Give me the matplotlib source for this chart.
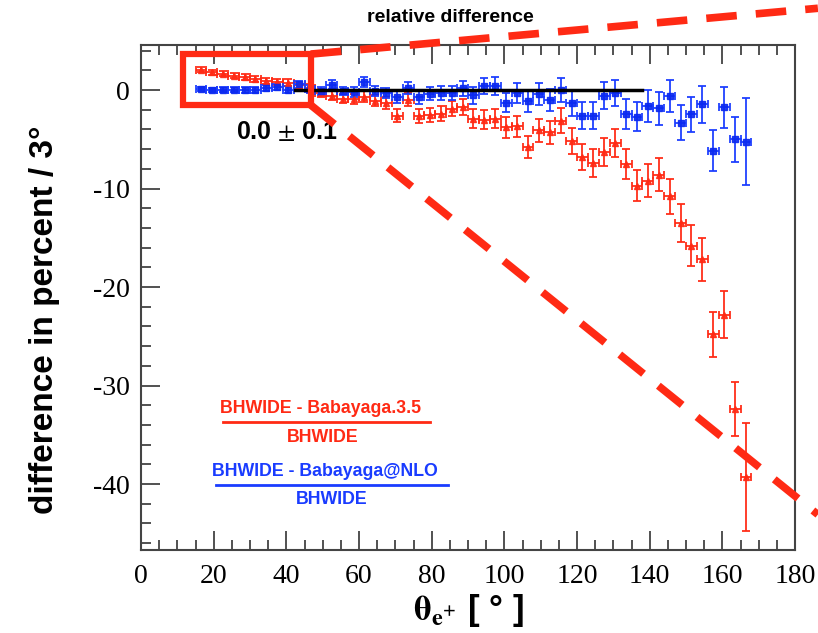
import matplotlib
matplotlib.use("Agg")
import matplotlib.pyplot as plt
from matplotlib.patches import Rectangle
from matplotlib.ticker import MultipleLocator
import numpy as np

plt.rcParams['axes.unicode_minus'] = False
plt.rcParams['mathtext.fontset'] = 'stix'

# bin centres, 3 degree bins
theta = np.arange(16.5, 167.0, 3.0)

# (BHWIDE - Babayaga.3.5) / BHWIDE in percent
red_vals = [2.05, 1.8, 1.65, 1.45, 1.3, 1.15, 0.95, 0.85,
            0.75, 0.5, 0.2, -0.3, -0.6, -0.9, -0.9,
            -0.7, -1.1, -1.3, -2.6, -1.0, -2.6, -2.5, -2.4, -1.9, -1.7,
            -2.9, -3.0, -2.9, -3.8, -3.7, -5.8, -4.1, -4.3, -3.1, -5.2,
            -6.8, -7.4, -6.3, -5.4, -7.5,
            -9.7, -9.2, -8.6, -10.8, -13.5, -15.8, -17.2,
            -24.8, -22.8, -32.4, -39.3]
red_err = [0.25, 0.25, 0.25, 0.25, 0.3, 0.3, 0.3, 0.3,
           0.35, 0.35, 0.4, 0.4, 0.45, 0.45, 0.5,
           0.55, 0.55, 0.6, 0.65, 0.65, 0.7, 0.7, 0.75, 0.75, 0.8,
           0.95, 1.0, 1.0, 1.05, 1.1, 1.15, 1.2, 1.2, 1.25, 1.3,
           1.35, 1.4, 1.4, 1.45, 1.5,
           1.6, 1.65, 1.7, 1.8, 1.95, 2.1, 2.2,
           2.3, 2.4, 2.75, 5.5]

# (BHWIDE - Babayaga@NLO) / BHWIDE in percent
blue_vals = [0.1, 0.0, 0.05, 0.05, 0.0, 0.0, 0.2, 0.35,
             0.05, 0.6, 0.1, -0.1, 0.55, -0.1, -0.2,
             0.8, -0.1, -0.3, -0.74, 0.17, -0.74, -0.38, -0.34, -0.34, 0.17,
             -0.55, 0.4, 0.4, -1.3, -0.3, -1.15, -0.4, -1.0, 0.0, -1.35,
             -2.6, -2.6, -0.57, -0.3, -2.44,
             -2.7, -1.6, -1.86, -0.6, -3.3, -2.44, -1.45,
             -6.16, -1.76, -5.0, -5.24]
blue_err = [0.25, 0.25, 0.25, 0.25, 0.3, 0.3, 0.3, 0.3,
            0.35, 0.35, 0.4, 0.4, 0.45, 0.45, 0.5,
            0.5, 0.55, 0.55, 0.6, 0.6, 0.65, 0.65, 0.7, 0.7, 0.75,
            0.85, 0.85, 0.9, 0.95, 1.0, 1.05, 1.1, 1.15, 1.25, 1.3,
            1.35, 1.35, 1.35, 1.35, 1.5,
            1.5, 1.6, 1.66, 1.6, 1.78, 1.78, 1.86,
            2.06, 2.06, 2.3, 4.4]

# fit result of the blue ratio
fit_range = [42.5, 138.0]
fit_value = 0.0

RED = '#ff2a14'
BLUE = '#1a3cff'

fig = plt.figure(figsize=(8.18, 6.33), dpi=100)
ax = fig.add_axes([0.1724, 0.1311, 0.7995, 0.7978])

ax.errorbar(theta, red_vals, xerr=1.5, yerr=red_err, fmt='^', color=RED,
            ecolor=RED, markersize=5, elinewidth=1.4, capsize=3,
            capthick=1.4, alpha=0.9, zorder=3)
ax.errorbar(theta, blue_vals, xerr=1.5, yerr=blue_err, fmt='s', color='#0a28f0',
            ecolor=BLUE, markersize=5, elinewidth=1.4, capsize=3,
            capthick=1.4, alpha=0.9, zorder=3)
ax.plot(fit_range, [fit_value, fit_value], color='black', lw=2.5, zorder=4)

ax.text(40.2, -4.3, r'0.0 $\pm$ 0.1', ha='center', va='center',
        fontsize=18, fontweight='bold', family='Liberation Sans')

# zoom box and dashed guide lines
ax.add_patch(Rectangle((11.6, -1.52), 35.1, 5.17, fill=False, edgecolor=RED,
                       lw=4.5, zorder=5, clip_on=False))
ax.plot([46.7, 186.3], [3.65, 8.3], color=RED, lw=5.5, ls=(0, (4, 2.5)),
        clip_on=False, zorder=5, solid_capstyle='butt')
ax.plot([46.7, 186.3], [-1.52, -43.1], color=RED, lw=5.5, ls=(0, (4, 2.5)),
        clip_on=False, zorder=5, solid_capstyle='butt')

# legend as fractions
ax.text(49.5, -32.3, 'BHWIDE - Babayaga.3.5', color=RED, ha='center',
        va='center', fontsize=12.8, fontweight='bold', family='Liberation Sans')
ax.plot([22.5, 79.5], [-33.7, -33.7], color=RED, lw=2)
ax.text(50.0, -35.3, 'BHWIDE', color=RED, ha='center', va='center',
        fontsize=12.8, fontweight='bold', family='Liberation Sans')
ax.text(50.6, -38.7, 'BHWIDE - Babayaga@NLO', color=BLUE, ha='center',
        va='center', fontsize=12.8, fontweight='bold', family='Liberation Sans')
ax.plot([20.6, 84.5], [-40.1, -40.1], color=BLUE, lw=2)
ax.text(52.5, -41.6, 'BHWIDE', color=BLUE, ha='center', va='center',
        fontsize=12.8, fontweight='bold', family='Liberation Sans')

ax.set_xlim(0, 180)
ax.set_ylim(-46.7, 4.57)
ax.xaxis.set_major_locator(MultipleLocator(20))
ax.xaxis.set_minor_locator(MultipleLocator(5))
ax.yaxis.set_major_locator(MultipleLocator(10))
ax.yaxis.set_minor_locator(MultipleLocator(2))
ax.tick_params(which='both', direction='in', top=True, right=False,
               width=1.2, color='#333333')
ax.tick_params(which='major', length=14)
ax.tick_params(which='minor', length=7)
ax.tick_params(axis='x', pad=10)
ax.tick_params(axis='y', pad=8)
for lab in ax.get_xticklabels() + ax.get_yticklabels():
    lab.set_family('Liberation Serif')
    lab.set_fontsize(20)
for sp in ax.spines.values():
    sp.set_linewidth(1.5)
    sp.set_color('#444444')

ax.set_xlabel(r'$\mathbf{\theta_{e^{+}}}$ [ ° ]', fontsize=25, fontweight='bold',
              family='Liberation Sans', labelpad=2)
ax.set_ylabel('difference in percent / 3°', fontsize=24,
              fontweight='bold', family='Liberation Sans')
ax.yaxis.set_label_coords(-0.124, 0.455)
fig.text(0.55, 0.972, 'relative difference', ha='center', va='center',
         fontsize=14, fontweight='bold', family='Liberation Sans')

fig.savefig('out.png', dpi=100)
